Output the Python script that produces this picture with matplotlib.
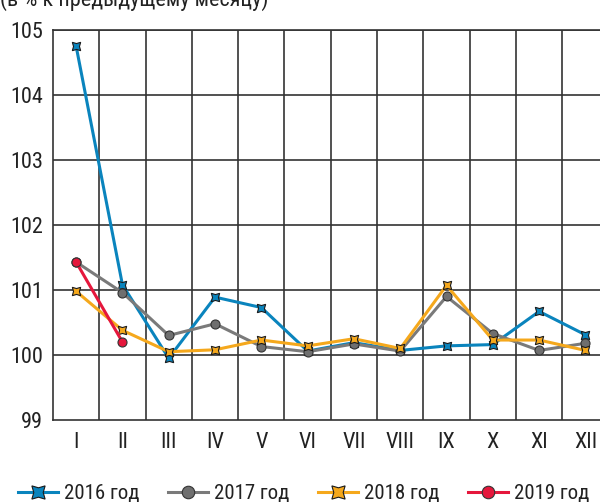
import matplotlib.pyplot as plt
from matplotlib.lines import Line2D

months = ["I", "II", "III", "IV", "V", "VI", "VII", "VIII", "IX", "X", "XI", "XII"]
y2016 = [104.75, 101.08, 99.95, 100.89, 100.73, 100.06, 100.19, 100.07, 100.14, 100.16, 100.67, 100.31]
y2017 = [101.43, 100.96, 100.30, 100.48, 100.13, 100.05, 100.17, 100.06, 100.90, 100.33, 100.07, 100.18]
y2018 = [100.98, 100.38, 100.05, 100.08, 100.23, 100.14, 100.25, 100.10, 101.07, 100.23, 100.23, 100.07]
y2019 = [101.43, 100.20]
labels = ["2016 год", "2017 год", "2018 год", "2019 год"]

plt.rcParams["font.family"] = ["Roboto Condensed", "DejaVu Sans"]

fig = plt.figure(figsize=(6, 5.04), dpi=100)
ax = fig.add_axes([0.0883, 0.1667, 0.926, 0.7738])

x = list(range(1, 13))
star = (4, 1, 45)
styles = [
    dict(color="#0a84bd", marker=star, mfc="#0a84bd", mec="#1a1a1a"),
    dict(color="#7a7a7a", marker="o", mfc="#6f6f6f", mec="#333333"),
    dict(color="#f5a81c", marker=star, mfc="#f5a81c", mec="#1a1a1a"),
    dict(color="#e5173c", marker="o", mfc="#e5173c", mec="#333333"),
]
series = [y2016, y2017, y2018, y2019]
for i, ys in enumerate(series):
    st = styles[i]
    ms = 8.5 if st["marker"] == star else 6.5
    ax.plot(x[:len(ys)], ys, lw=2.2, ms=ms, mew=0.8, label=labels[i], zorder=3 + i, **st)

ax.set_xlim(0.5, 12.5)
ax.set_ylim(99, 105)
ax.set_yticks([99, 100, 101, 102, 103, 104, 105])
ax.set_xticks(x)
ax.set_xticklabels(months)
ax.grid(False)
for v in [100, 101, 102, 103, 104, 105]:
    ax.axhline(v, color="#333333", lw=1.2, zorder=1)
for v in [i + 0.5 for i in range(1, 12)]:
    ax.axvline(v, color="#333333", lw=1.2, zorder=1)
for s in ax.spines.values():
    s.set_color("#333333")
    s.set_linewidth(1.2)
ax.tick_params(axis="both", which="both", length=0, labelsize=16, colors="#222222")
ax.tick_params(axis="y", pad=7)
ax.tick_params(axis="x", pad=9)

fig.text(0.0, 1.0, "(в % к предыдущему месяцу)", fontsize=16, color="#222222", va="center", ha="left")

# legend: one small legend per series, placed along the bottom
leg_x = [18, 168, 318, 468]
for i, st in enumerate(styles):
    ms = 13.5 if st["marker"] == star else 9
    h = Line2D([], [], lw=2.2, ms=ms, mew=0.8, **st)
    leg = fig.legend(handles=[h], labels=[labels[i]], loc="center left",
                     bbox_to_anchor=(leg_x[i] / 600, 1 - 494 / 504), frameon=False,
                     fontsize=15, handlelength=1.92, handletextpad=0.29,
                     borderpad=0, borderaxespad=0)
    for t in leg.get_texts():
        t.set_color("#222222")

fig.savefig("out.png", dpi=100)
